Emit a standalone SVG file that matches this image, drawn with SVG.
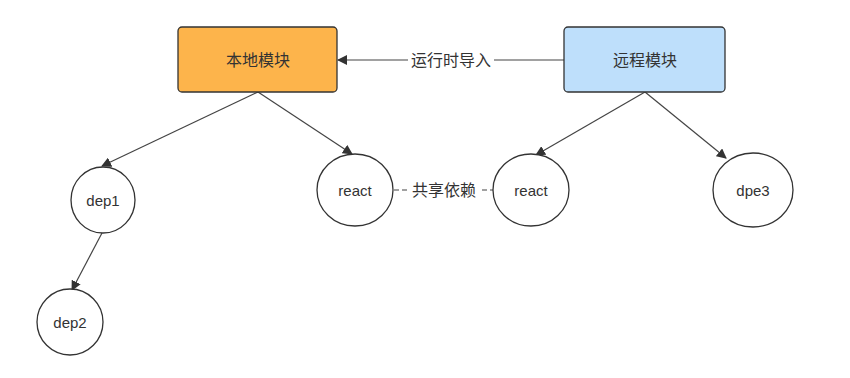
<svg xmlns="http://www.w3.org/2000/svg" width="850" height="378" viewBox="0 0 850 378">
<defs>
<marker id="arr" viewBox="0 0 10 10" refX="9" refY="5" markerWidth="10" markerHeight="10" markerUnits="userSpaceOnUse" orient="auto">
<path d="M0,0 L10,5 L0,10 z" fill="#333"/>
</marker>
<style>
.t{font-family:"Liberation Sans","Noto Sans CJK SC",sans-serif;font-size:15px;fill:#333;text-anchor:middle;dominant-baseline:central}
.z{font-size:16px}
.c{fill:#fff;stroke:#333;stroke-width:1.3}
.l{fill:none;stroke:#444;stroke-width:1.2}
</style>
</defs>
<rect width="850" height="378" fill="#fff"/>
<g id="connectors">
<line class="l" x1="564" y1="60" x2="338" y2="60" marker-end="url(#arr)"/>
<rect x="408" y="50" width="86" height="20" fill="#fff"/>
<text class="t z" x="451" y="60">运行时导入</text>
<line class="l" x1="258" y1="92" x2="102" y2="166" marker-end="url(#arr)"/>
<line class="l" x1="258" y1="92" x2="352" y2="154" marker-end="url(#arr)"/>
<line class="l" x1="645" y1="92" x2="536" y2="155" marker-end="url(#arr)"/>
<line class="l" x1="645" y1="92" x2="726" y2="158" marker-end="url(#arr)"/>
<line class="l" x1="102" y1="233" x2="72" y2="290" marker-end="url(#arr)"/>
<line class="l" x1="394" y1="190" x2="493" y2="190" stroke-dasharray="5,3"/>
<rect x="409" y="180" width="70" height="20" fill="#fff"/>
<text class="t z" x="444" y="190">共享依赖</text>
</g>
<g id="local">
<rect x="178" y="27" width="159" height="65" rx="4" fill="#FDB44B" stroke="#333" stroke-width="1.3"/>
<text class="t z" x="258" y="60">本地模块</text>
</g>
<g id="remote">
<rect x="564" y="27" width="161" height="65" rx="4" fill="#BEDFFB" stroke="#333" stroke-width="1.3"/>
<text class="t z" x="645" y="60">远程模块</text>
</g>
<g id="dep1">
<ellipse class="c" cx="103" cy="200" rx="32" ry="33"/>
<text class="t" x="103" y="200">dep1</text>
</g>
<g id="dep2">
<ellipse class="c" cx="70" cy="322" rx="33" ry="33"/>
<text class="t" x="70" y="322">dep2</text>
</g>
<g id="react1">
<ellipse class="c" cx="355" cy="190" rx="38" ry="36"/>
<text class="t" x="355" y="190">react</text>
</g>
<g id="react2">
<ellipse class="c" cx="531" cy="190" rx="38" ry="36"/>
<text class="t" x="531" y="190">react</text>
</g>
<g id="dpe3">
<ellipse class="c" cx="753" cy="190" rx="40" ry="37"/>
<text class="t" x="753" y="190">dpe3</text>
</g>
</svg>
